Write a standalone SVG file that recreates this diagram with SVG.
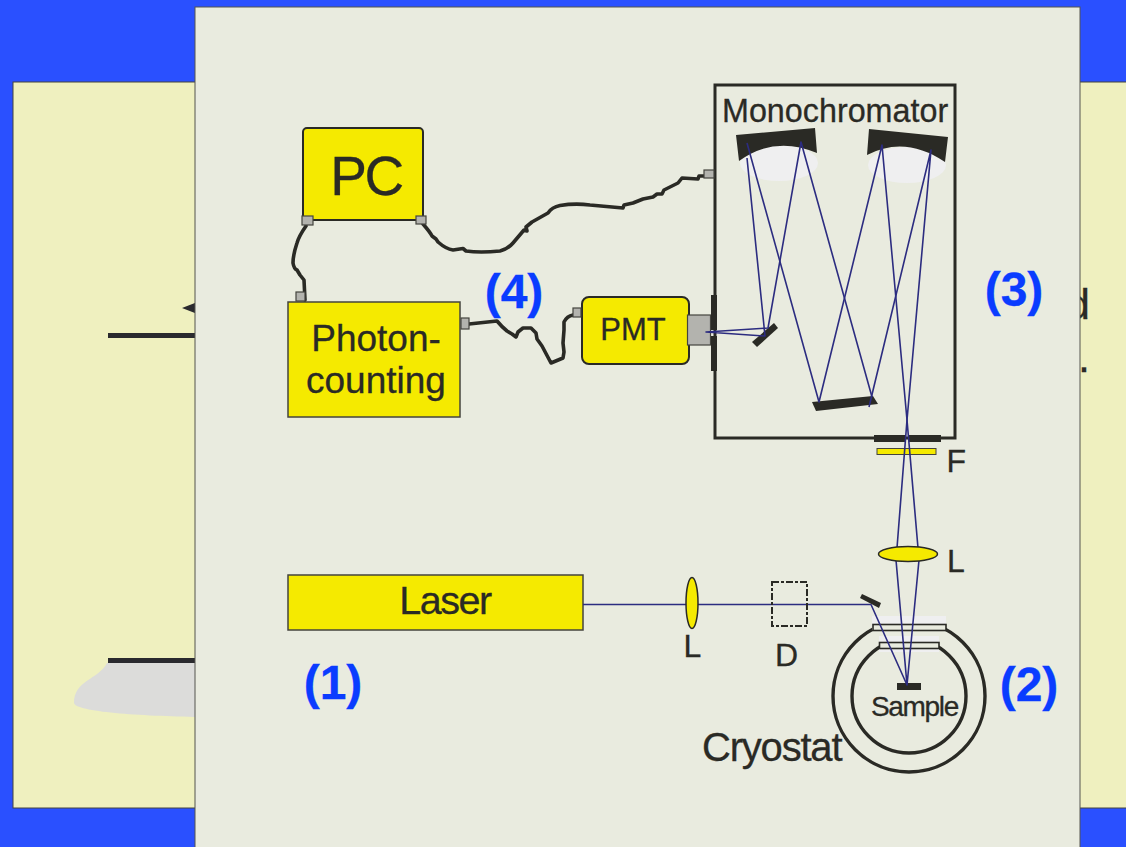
<svg xmlns="http://www.w3.org/2000/svg" width="1126" height="847" viewBox="0 0 1126 847">
<style>
text{font-family:"Liberation Sans",Arial,sans-serif;fill:#2a2a25;stroke:#2a2a25;stroke-width:0.3}
.box{fill:#f5ea00;stroke:#2a2a25;stroke-width:2}
.box2{fill:#f5ea00;stroke:#44443e;stroke-width:1.500}
.port{fill:#b3b3ae;stroke:#44443e;stroke-width:1.2}
.wire{fill:none;stroke:#2a2a25;stroke-width:3.600;stroke-linejoin:round;stroke-linecap:round}
.ray{fill:none;stroke:#2c2c80;stroke-width:1.600;stroke-linejoin:round}
.dark{fill:#2a2a25;stroke:none}
.mark{font-weight:bold;font-size:48px;fill:#0a3cff;stroke:#0a3cff;text-anchor:middle}
.lbl{font-size:32px}
.hi{fill:#efeff0;stroke:none}
.win{fill:#e9ebdf;stroke:#2a2a25;stroke-width:1.6}
.ring{fill:none;stroke:#2a2a25;stroke-width:3.400}
</style>
<rect width="1126" height="847" fill="#2a50ff"/>
<g id="background-slide">
<rect x="13" y="82" width="1125" height="726" fill="#eff0bf" stroke="#44443e" stroke-width="1"/>
<path d="M107 663C98 680 74 680 74 703C76 712 140 716 200 717L200 663Z" fill="#dcdcda"/>
<rect x="108" y="333" width="92" height="5" fill="#2a2a2e"/>
<rect x="108" y="658" width="92" height="5" fill="#2a2a2e"/>
<path d="M182 308L200 301V315Z" fill="#2a2a2e"/>
<text x="1066" y="319" font-size="43">d</text>
<text x="1078" y="372" font-size="43">.</text>
</g>
<rect id="panel" x="195" y="7" width="885" height="860" fill="#e9ebdf" stroke="#55554f" stroke-width="1"/>

<g id="monochromator">
<ellipse class="hi" cx="779" cy="163" rx="39" ry="18"/>
<ellipse class="hi" cx="907" cy="165" rx="39" ry="18"/>
<rect x="715" y="85" width="240" height="353" fill="none" stroke="#2a2a25" stroke-width="3"/>
<path class="dark" d="M736 135L815 128L817 153Q775 135 739 161Z"/>
<path class="dark" d="M869 129L948 137L945 162Q905 135 867 155Z"/>
<path class="dark" d="M812 402L873 396L878 404L816 411Z"/>
<path class="dark" d="M774 323L778 328L757 347L752 342Z"/>
<text x="722" y="122" font-size="32.300">Monochromator</text>
</g>

<g id="slit-filter">
<rect class="dark" x="874" y="435" width="32" height="7"/>
<rect class="dark" x="909" y="435" width="32" height="7"/>
<rect x="877" y="448.500" width="59" height="6" fill="#f5ea00" stroke="#44443e" stroke-width="1"/>
<text class="lbl" x="946.500" y="472">F</text>
</g>

<g id="pc">
<rect class="box" x="303" y="128" width="120" height="92" rx="4"/>
<text x="366" y="195" font-size="55" letter-spacing="-2.500" text-anchor="middle">PC</text>
</g>
<g id="photon-counting">
<rect class="box2" x="288" y="302" width="172" height="115"/>
<text x="376" y="351" font-size="37" text-anchor="middle">Photon-</text>
<text x="376" y="393" font-size="37" text-anchor="middle">counting</text>
</g>
<g id="pmt">
<rect class="box" x="582" y="297" width="107" height="67" rx="7"/>
<text x="633" y="340" font-size="31" text-anchor="middle">PMT</text>
<rect class="port" x="687.500" y="315" width="23" height="30"/>
<rect class="dark" x="711" y="295" width="6" height="35"/>
<rect class="dark" x="711" y="336" width="6" height="35"/>
</g>
<g id="laser">
<rect class="box2" x="288" y="575" width="295" height="55"/>
<text x="445" y="614" font-size="39.500" letter-spacing="-1.500" text-anchor="middle">Laser</text>
</g>

<g id="cryostat">
<circle class="ring" cx="909" cy="696" r="76"/>
<circle class="ring" cx="909" cy="696" r="57"/>
<rect class="hi" x="872" y="616" width="74" height="14"/>
<rect class="hi" x="879" y="636" width="60" height="16"/>
<rect class="win" x="873" y="624.500" width="73" height="6"/>
<rect class="win" x="879.500" y="642.500" width="59.500" height="6"/>
<rect class="dark" x="897" y="683" width="24" height="7"/>
<text x="914.500" y="716" font-size="28" letter-spacing="-1.300" text-anchor="middle">Sample</text>
<text x="702" y="761" font-size="40" letter-spacing="-1.200">Cryostat</text>
</g>

<g id="connectors">
<g id="beams">
<path class="ray" d="M583 604.500H871L907 685"/>
<path class="ray" d="M918 548L907 420L882 145L819 402L747 143"/>
<path class="ray" d="M897 548L907 420L931 150L869 407"/>
<path class="ray" d="M872 397L801 142L768 328L706 332L765 336L747 158"/>
<path class="ray" d="M896 560L907 685L919 560"/>
</g>
<path class="wire" d="M306 226Q299 236 297 243Q293 255 293 263Q294 269 297 270L300 275L304 280L305 300"/>
<path class="wire" d="M423 224Q430 232 432 236L436 239L438 242Q446 249 453 250L463 248.500L466 251Q480 253 500 251Q508 249 513 243L524 230L527 231L526 227L532 222L548 213Q552 207 560 205.500Q575 203 590 205L623 208L624 205L633 203L643 199L653 197L657 194L662 194L664 190L678 183L682 178L698 179L699 176L704 176"/>
<path class="wire" d="M469 324L497 321Q502 327 507 331L512 334L516 337L518 332L523 328L531 328L536 333L537 339L542 346L551 363L563 358L564 352L563 343L564 330L564 322Q567 316 573 315"/>
<g id="ports">
<rect class="port" x="302" y="216" width="11" height="9"/>
<rect class="port" x="416" y="216" width="10" height="8"/>
<rect class="port" x="296" y="292" width="9" height="9"/>
<rect class="port" x="461" y="318" width="8" height="11"/>
<rect class="port" x="573" y="308" width="8" height="9"/>
<rect class="port" x="704" y="170" width="10" height="8"/>
</g>
</g>

<g id="optics">
<ellipse cx="908" cy="554" rx="29.500" ry="7.500" fill="#f5ea00" stroke="#2a2a25" stroke-width="1.500"/>
<text class="lbl" x="947" y="572">L</text>
<ellipse cx="692" cy="603" rx="6" ry="25.500" fill="#f5ea00" stroke="#2a2a25" stroke-width="1.500"/>
<text class="lbl" x="683.500" y="657">L</text>
<rect x="772" y="582" width="35" height="44" fill="none" stroke="#2a2a25" stroke-width="2" stroke-dasharray="7 2 3 2"/>
<text class="lbl" x="775" y="666">D</text>
<path class="dark" d="M862 594L881 603L879 608L860 598Z"/>
</g>

<g id="labels">
<text class="mark" x="333" y="699">(1)</text>
<text class="mark" x="1029" y="701">(2)</text>
<text class="mark" x="1014" y="306">(3)</text>
<text class="mark" x="514" y="308">(4)</text>
</g>
</svg>
